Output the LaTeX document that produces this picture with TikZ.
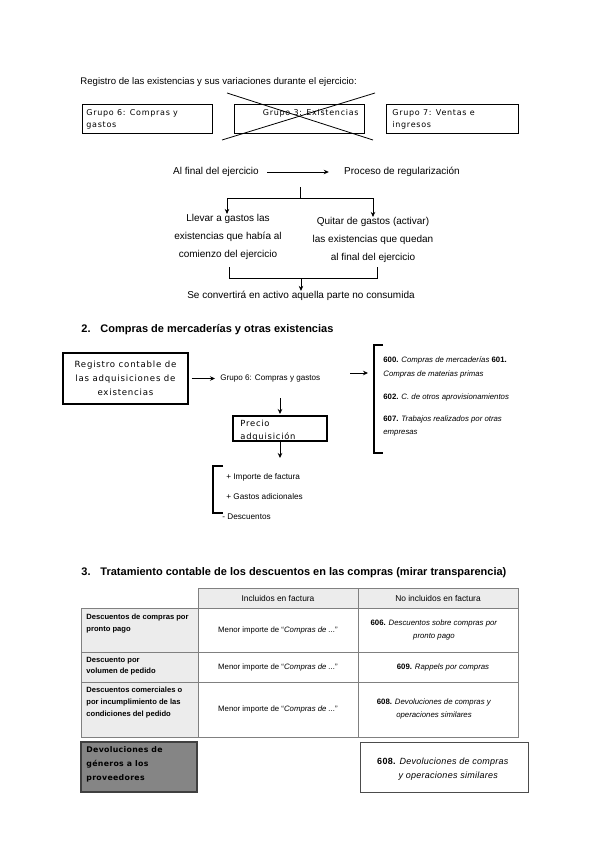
\documentclass[tikz,border=0pt]{standalone}
\usepackage{fontspec}
\setmainfont{Liberation Sans}
\newfontfamily\dvfont[LetterSpace=9]{DejaVu Sans}
\usetikzlibrary{arrows.meta}

\definecolor{celda}{HTML}{ECECEC}
\definecolor{borde}{HTML}{808080}
\definecolor{oscuro}{HTML}{858585}

\tikzset{
  txt/.style={inner sep=0pt, font=\fontsize{10}{18}\selectfont},
  small/.style={inner sep=0pt, font=\fontsize{7.8}{12.5}\selectfont},
  tab/.style={inner sep=0pt, font=\fontsize{7.8}{13}\selectfont},
  tabb/.style={inner sep=0pt, anchor=north west, align=left, font=\bfseries\fontsize{7.6}{11.8}\selectfont},
  grp/.style={inner sep=0pt, anchor=north west, align=left, font=\dvfont\fontsize{8}{12}\selectfont},
  head/.style={inner sep=0pt, anchor=west, font=\bfseries\fontsize{11}{13}\selectfont},
  arr/.style={-{Stealth[length=5pt,width=4.5pt]}, line width=0.8pt},
}

\begin{document}
\begin{tikzpicture}[x=1pt, y=-1pt, line width=0.8pt]
        \useasboundingbox (0,0) rectangle (599,848);

        % 1. grupos
        \node[txt, anchor=west, font=\fontsize{9.6}{12}\selectfont] (titulo) at (80,82) {Registro de las existencias y sus variaciones durante el ejercicio:};
        \draw (82,104) rectangle (212,133);
        \draw (234,104) rectangle (364,133);
        \draw (386,104) rectangle (518,133);
        \node[grp] (g6top) at (86,109) {Grupo 6: Compras y\\gastos};
        \node[grp, anchor=north east] (g3top) at (359,109) {Grupo 3: Existencias};
        \node[grp] (g7top) at (392,109) {Grupo 7: Ventas e\\ingresos};
        \draw (227,93) -- (373,140);
        \draw (375,93) -- (222,140);

        % regularizacion
        \node[txt] (fin) at (216,172) {Al final del ejercicio};
        \node[txt] (proc) at (402,172) {Proceso de regularización};
        \draw[arr, shorten <=8pt, shorten >=15pt] (fin.east) -- (proc.west);
        \coordinate (fork) at (300,187);
        \coordinate (forkL) at (227,198);
        \coordinate (forkR) at (373,198);
        \node[txt, align=center] (llevar) at (228,237) {Llevar a gastos las\\existencias que había al\\comienzo del ejercicio};
        \node[txt, align=center] (quitar) at (373,240) {Quitar de gastos (activar)\\las existencias que quedan\\al final del ejercicio};
        \draw (fork) -- (fork |- forkL);
        \draw (forkL) -- (forkR);
        \draw[arr] (forkL) -- (forkL |- llevar.north);
        \draw[arr] (forkR) -- (forkR |- quitar.north);
        \node[txt] (conv) at (301,296) {Se convertirá en activo aquella parte no consumida};
        \draw (229,267) -- (229,278) -- (377,278) -- (377,267);
        \draw[arr] (301,278) -- (conv.north);

        % 2. compras
        \node[head] (tit2) at (81,330) {2.\hspace{0.9em}Compras de mercaderías y otras existencias};
        \node[draw, line width=1.2pt, minimum width=125pt, minimum height=51pt, align=center,
              font=\dvfont\fontsize{8.6}{14}\selectfont] (reg) at (125.5,378.5) {Registro contable de\\las adquisiciones de\\existencias};
        \node[small, anchor=west, font=\fontsize{8.1}{10}\selectfont] (g6) at (220,379) {Grupo 6: Compras y gastos};
        \draw[arr, shorten <=3pt, shorten >=5pt] (reg.east) -- (reg.east -| g6.west);

        % cuentas
        \coordinate (a2) at (350,373);
        \coordinate (b2) at (368,373);
        \draw[arr] (a2) -- (b2);
        \draw[line width=1.2pt] (383,345) -- (374,345) -- (374,453) -- (383,453);
        \node[small, anchor=west] (c600) at (383,360) {\textbf{600.} \textit{Compras de mercaderías} \textbf{601.}};
        \node[small, anchor=west] (c601) at (383,374) {\textit{Compras de materias primas}};
        \node[small, anchor=west] (c602) at (383,397) {\textbf{602.} \textit{C. de otros aprovisionamientos}};
        \node[small, anchor=west] (c607) at (383,419) {\textbf{607.} \textit{Trabajos realizados por otras}};
        \node[small, anchor=west] (c607b) at (383,433) {\textit{empresas}};

        % precio
        \draw[line width=1.2pt] (233,416) rectangle (327,441);
        \begin{scope}
          \clip (233,416) rectangle (327,440);
          \node[grp, font=\dvfont\fontsize{8.4}{12.5}\selectfont] (precio) at (240,420) {Precio\\adquisición};
        \end{scope}
        \coordinate (pa) at (280,398);
        \coordinate (pb) at (280,414);
        \coordinate (pc) at (280,441);
        \coordinate (pd) at (280,458);
        \draw[arr] (pa) -- (pb);
        \draw[arr] (pc) -- (pd);
        \draw[line width=1.2pt] (223,466) -- (213,466) -- (213,513) -- (223,513);
        \node[small, anchor=west, font=\fontsize{8.2}{10}\selectfont] (imp) at (226,477) {+ Importe de factura};
        \node[small, anchor=west, font=\fontsize{8.2}{10}\selectfont] (gas) at (226,497) {+ Gastos adicionales};
        \node[small, anchor=west, font=\fontsize{8.2}{10}\selectfont] (dto) at (222,517) {- Descuentos};

        % 3. descuentos
        \node[head] (tit3) at (81,573) {3.\hspace{0.9em}Tratamiento contable de los descuentos en las compras (mirar transparencia)};
        \fill[celda] (198,588) rectangle (518,608);
        \fill[celda] (81,608) rectangle (198,737);
        \draw[borde] (198,588) rectangle (518,737);
        \draw[borde] (81,608) rectangle (198,737);
        \draw[borde] (358,588) -- (358,737);
        \draw[borde] (81,608) -- (518,608);
        \draw[borde] (81,652) -- (518,652);
        \draw[borde] (81,682) -- (518,682);
        \node[tab, font=\fontsize{8.4}{12}\selectfont] (inc) at (278,598) {Incluidos en factura};
        \node[tab, font=\fontsize{8.4}{12}\selectfont] (noinc) at (438,598) {No incluidos en factura};
        \node[tabb] (r1) at (86,614) {Descuentos de compras por\\pronto pago};
        \node[tabb] (r2) at (86,656.5) {Descuento por\\volumen de pedido};
        \node[tabb] (r3) at (86,687) {Descuentos comerciales o\\por incumplimiento de las\\condiciones del pedido};
        \node[tab] (m1) at (278,630) {Menor importe de “\textit{Compras de ...}”};
        \node[tab] (m2) at (278,667) {Menor importe de “\textit{Compras de ...}”};
        \node[tab] (m3) at (278,709) {Menor importe de “\textit{Compras de ...}”};
        \node[tab, align=center] (n1) at (434,630) {\textbf{606.} \textit{Descuentos sobre compras por}\\\textit{pronto pago}};
        \node[tab] (n2) at (443,667) {\textbf{609.} \textit{Rappels por compras}};
        \node[tab, align=center] (n3) at (434,709) {\textbf{608.} \textit{Devoluciones de compras y}\\\textit{operaciones similares}};

        % devoluciones
        \filldraw[fill=oscuro, draw=black!75, line width=1.4pt] (81,742) rectangle (197,792);
        \node[grp, font=\dvfont\bfseries\fontsize{7.8}{14}\selectfont\addfontfeature{LetterSpace=4}] (dev) at (86,746) {Devoluciones de\\géneros a los\\proveedores};
        \draw[black!70, line width=1pt] (360,742) rectangle (528,792);
        \node[inner sep=0pt, align=center, font=\fontsize{9}{14}\selectfont\addfontfeature{LetterSpace=3}] (d608) at (443,769) {\textbf{608.} \textit{Devoluciones de compras}\\\hspace{1.2em}\textit{y operaciones similares}};
\end{tikzpicture}
\end{document}
